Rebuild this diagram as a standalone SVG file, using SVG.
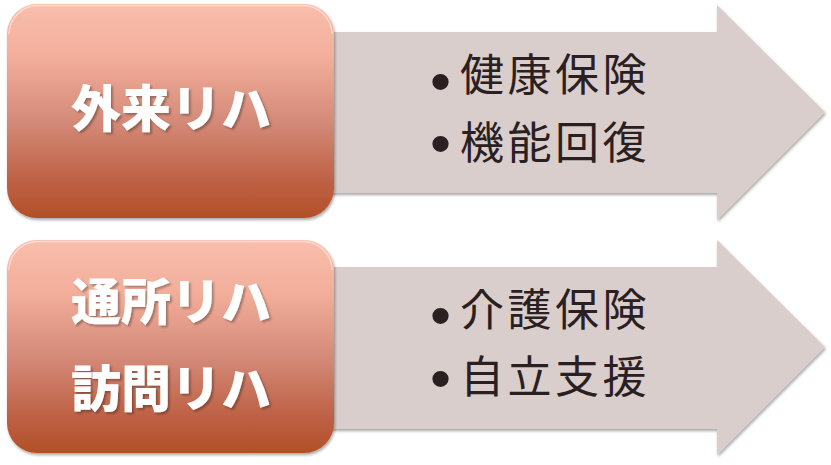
<svg xmlns="http://www.w3.org/2000/svg" width="831" height="465" viewBox="0 0 831 465">
<defs>
<linearGradient id="boxGrad" x1="0" y1="0" x2="0" y2="1">
<stop offset="0" stop-color="#f9beac"/>
<stop offset="0.25" stop-color="#f2ae9b"/>
<stop offset="0.55" stop-color="#d48a78"/>
<stop offset="0.8" stop-color="#c0654a"/>
<stop offset="1" stop-color="#b24f27"/>
</linearGradient>
<filter id="shadow" x="-5%" y="-5%" width="115%" height="120%">
<feGaussianBlur in="SourceAlpha" stdDeviation="1.5"/>
<feOffset dx="1" dy="2" result="b"/>
<feComponentTransfer><feFuncA type="linear" slope="0.35"/></feComponentTransfer>
<feMerge><feMergeNode/><feMergeNode in="SourceGraphic"/></feMerge>
</filter>
<filter id="tshadow" x="-10%" y="-10%" width="130%" height="140%">
<feGaussianBlur in="SourceAlpha" stdDeviation="1"/>
<feOffset dx="1.5" dy="1.5"/>
<feComponentTransfer><feFuncA type="linear" slope="0.3"/></feComponentTransfer>
<feMerge><feMergeNode/><feMergeNode in="SourceGraphic"/></feMerge>
</filter>
</defs>
<style>
.arrow{fill:#d9cecc;}
.box{fill:url(#boxGrad);}
.hl{fill:none;stroke:#ffffff;stroke-opacity:0.45;stroke-width:1.5;}
.lbl{font-family:"Noto Sans CJK JP","Noto Sans CJK SC",sans-serif;font-weight:900;font-size:50px;fill:#ffffff;text-anchor:middle;}
.item{font-family:"Noto Sans CJK JP","Noto Sans CJK SC",sans-serif;font-size:44px;fill:#2a2022;letter-spacing:3.5px;}
.bul{font-family:"Liberation Sans",sans-serif;font-size:60px;fill:#2a2022;}
</style>
<g id="connectors">
<path class="arrow" filter="url(#shadow)" d="M200,32 H717 V5 L825,112 L717,220 V193 H200 Z"/>
<path class="arrow" filter="url(#shadow)" d="M200,267 H717 V240 L825,347 L717,455 V429 H200 Z"/>
</g>
<g id="node1">
<rect class="box" filter="url(#shadow)" x="7" y="4" width="327" height="214" rx="30" ry="30"/>
<path class="hl" d="M9,34 A29,29 0 0 1 37,5.5 H304 A29,29 0 0 1 332,34"/>
<text class="lbl" filter="url(#tshadow)" x="171" y="127">外来リハ</text>
</g>
<g id="node2">
<rect class="box" filter="url(#shadow)" x="7" y="240" width="327" height="213" rx="30" ry="30"/>
<path class="hl" d="M9,270 A29,29 0 0 1 37,241.5 H304 A29,29 0 0 1 332,270"/>
<text class="lbl" filter="url(#tshadow)" x="171" y="320">通所リハ</text>
<text class="lbl" filter="url(#tshadow)" x="171" y="407">訪問リハ</text>
</g>
<g id="items1">
<text class="bul" x="430" y="102">•</text>
<text class="item" x="460" y="91">健康保険</text>
<text class="bul" x="430" y="164">•</text>
<text class="item" x="460" y="159">機能回復</text>
</g>
<g id="items2">
<text class="bul" x="430" y="336">•</text>
<text class="item" x="460" y="326">介護保険</text>
<text class="bul" x="430" y="399">•</text>
<text class="item" x="460" y="393">自立支援</text>
</g>
</svg>
